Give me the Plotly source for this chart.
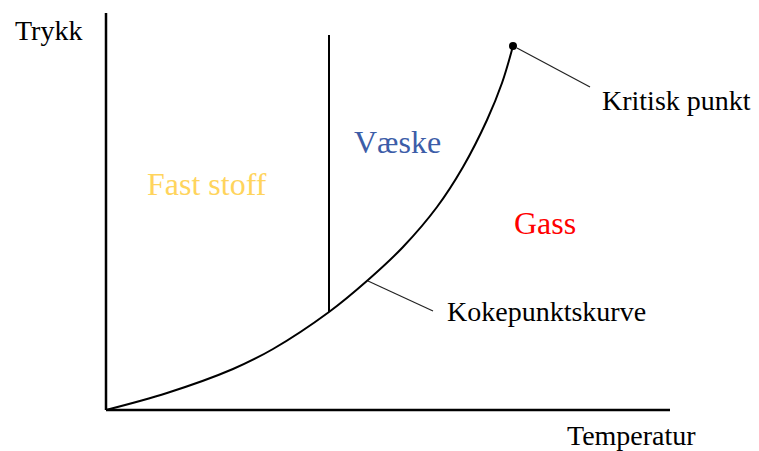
import plotly.graph_objects as go

# Boiling-point curve (temperature, pressure) in arbitrary units, origin at axes corner
curve_T = [0, 61, 127, 167, 223, 262, 297, 331, 357, 381, 396, 407]
curve_P = [0, 17, 41, 61, 98, 130, 163, 203, 243, 290, 327, 364]

# Melting line (vertical)
melt_T = [223, 223]
melt_P = [98, 375]

# Critical point
crit_T = [407]
crit_P = [364]

# Axis extents
axis_T_max = 564
axis_P_max = 397

# Region labels
region_labels = ["Fast stoff", "Væske", "Gass"]
region_T = [101, 291, 439]
region_P = [226, 268, 187]
region_colors = ["#FFD45C", "#3C5DA8", "#FF0000"]

FONT = "Liberation Serif, Times New Roman, serif"

fig = go.Figure()

# axes
fig.add_trace(go.Scatter(x=[0, 0], y=[axis_P_max, 0], mode="lines",
                         line=dict(color="black", width=2.5), hoverinfo="skip"))
fig.add_trace(go.Scatter(x=[0, axis_T_max], y=[0, 0], mode="lines",
                         line=dict(color="black", width=2.5), hoverinfo="skip"))
# curve
fig.add_trace(go.Scatter(x=curve_T, y=curve_P, mode="lines",
                         line=dict(color="black", width=2, shape="spline", smoothing=1.0),
                         hoverinfo="skip"))
# melting line
fig.add_trace(go.Scatter(x=melt_T, y=melt_P, mode="lines",
                         line=dict(color="black", width=2), hoverinfo="skip"))
# pointer lines
fig.add_trace(go.Scatter(x=[411, 484], y=[362, 323], mode="lines",
                         line=dict(color="#222", width=1.2), hoverinfo="skip"))
fig.add_trace(go.Scatter(x=[262, 327], y=[129, 99], mode="lines",
                         line=dict(color="#222", width=1.2), hoverinfo="skip"))
# critical point
fig.add_trace(go.Scatter(x=crit_T, y=crit_P, mode="markers",
                         marker=dict(color="black", size=8), hoverinfo="skip"))

ann = []
for t, x, y, c in zip(region_labels, region_T, region_P, region_colors):
    ann.append(dict(x=x, y=y, text=t, showarrow=False, xanchor="center", yanchor="middle",
                    font=dict(family=FONT, size=32, color=c)))
ann.append(dict(x=-58, y=380, text="Trykk", showarrow=False, xanchor="center", yanchor="middle",
                font=dict(family=FONT, size=28, color="black")))
ann.append(dict(x=525, y=-25, text="Temperatur", showarrow=False, xanchor="center", yanchor="middle",
                font=dict(family=FONT, size=28, color="black")))
ann.append(dict(x=494, y=310, text="Kritisk punkt", showarrow=False, xanchor="left", yanchor="middle",
                font=dict(family=FONT, size=28, color="black")))
ann.append(dict(x=339, y=99, text="Kokepunktskurve", showarrow=False, xanchor="left", yanchor="middle",
                font=dict(family=FONT, size=28, color="black")))

fig.update_layout(
    width=751, height=443,
    margin=dict(l=0, r=0, t=0, b=0),
    paper_bgcolor="white", plot_bgcolor="white",
    showlegend=False,
    annotations=ann,
    xaxis=dict(range=[-98, 653], visible=False, fixedrange=True),
    yaxis=dict(range=[-41, 402], visible=False, fixedrange=True),
)

fig.write_html("out.html")
